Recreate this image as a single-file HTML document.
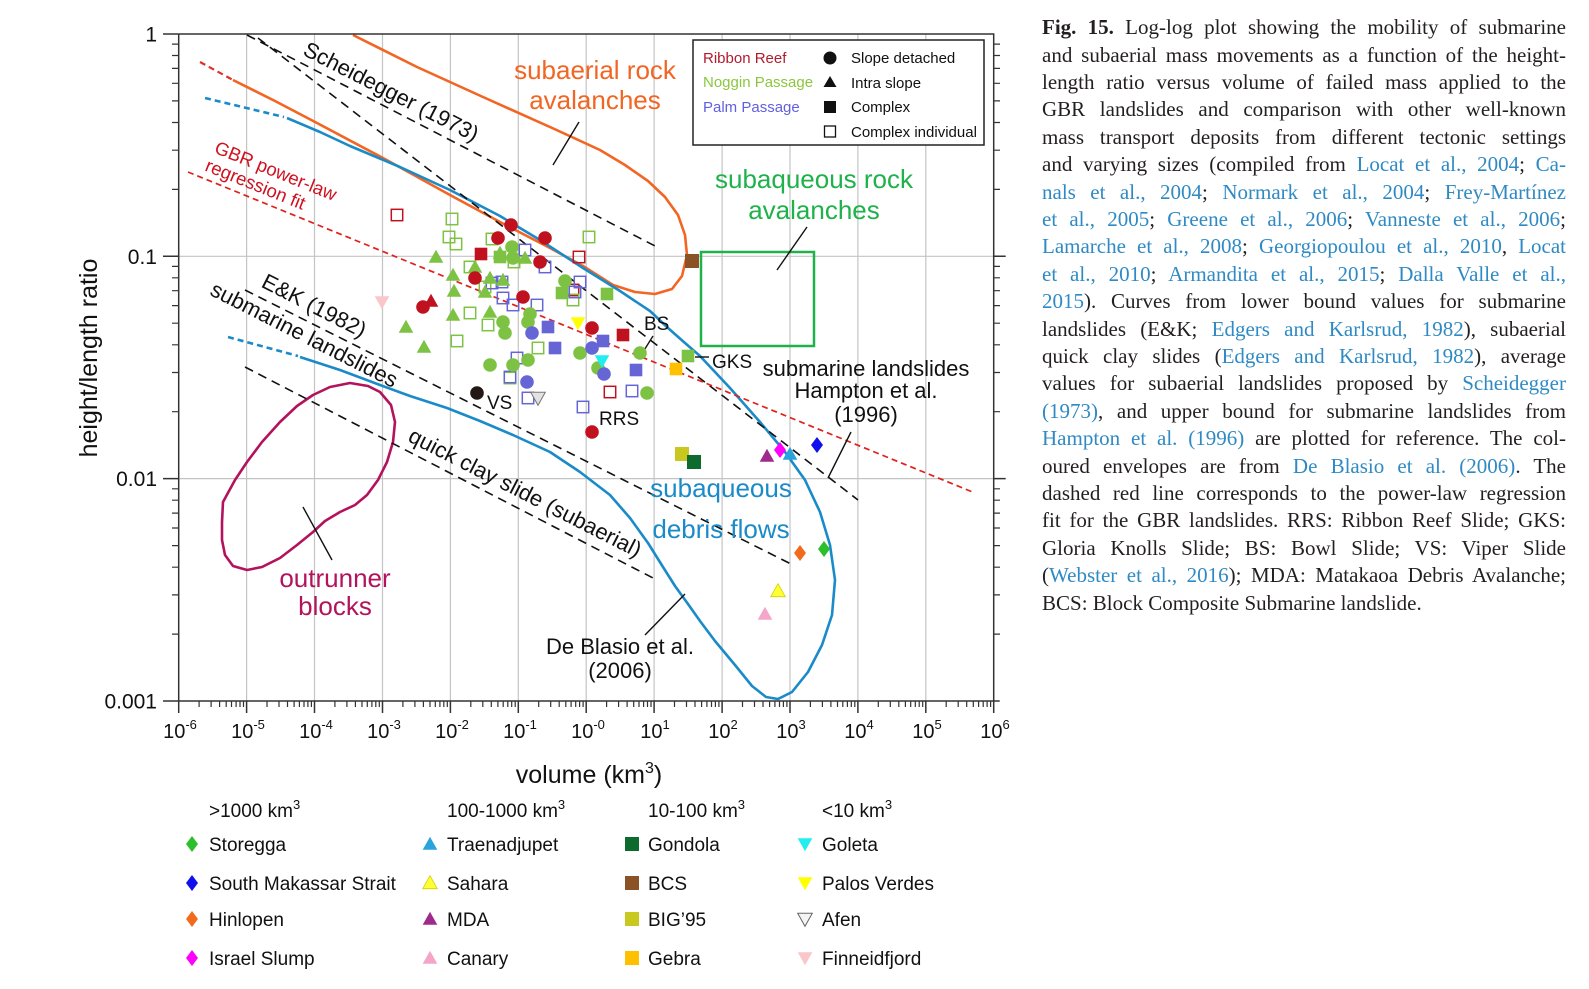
<!DOCTYPE html>
<html><head><meta charset="utf-8">
<style>
html,body{margin:0;padding:0;background:#fff;}
body{width:1589px;height:989px;overflow:hidden;position:relative;}
svg{position:absolute;left:0;top:0;}
#cap{position:absolute;left:1042px;top:14.3px;width:524px;font-family:"Liberation Serif",serif;font-size:21px;color:#231f20;}
#cap .l{height:27.4px;line-height:27.4px;text-align:justify;text-align-last:justify;overflow:visible;}
#cap .l.last{text-align-last:left;}
#cap a{color:#2f8ac4;text-decoration:none;}
</style></head><body>
<svg width="1589" height="989" viewBox="0 0 1589 989" font-family="Liberation Sans, Arial, sans-serif">
<defs>
<circle id="ci" r="6.8"/>
<path id="tu" d="M0,-7.3 L7.3,5.7 L-7.3,5.7Z"/>
<path id="td" d="M-7.3,-5.7 L7.3,-5.7 L0,7.3Z"/>
<rect id="sq" x="-6.3" y="-6.3" width="12.6" height="12.6"/>
<rect id="os" x="-5.7" y="-5.7" width="11.4" height="11.4"/>
<path id="di" d="M0,-8 L6,0 L0,8 L-6,0Z"/>
</defs>
<!-- grid -->
<g stroke="#c4c4c4" stroke-width="1.2">
<path d="M246.6 34V701M314.5 34V701M382.5 34V701M450.4 34V701M518.3 34V701M586.2 34V701M654.1 34V701M722.1 34V701M790 34V701M857.9 34V701M925.8 34V701M178.7 256.3H993.7M178.7 478.6H993.7"/>
</g>
<!-- green rect -->
<rect x="701" y="252" width="113" height="94" fill="none" stroke="#1fb14a" stroke-width="2.5"/>
<!-- magenta envelope -->
<polygon fill="none" stroke="#b3135c" stroke-width="2.6" stroke-linejoin="round" points="223,502 235,480 247,462 262,442 280,422 297,406 313,395 330,387 350,383 368,386 380,392 391,405 395,422 393,442 387,462 378,480 367,495 355,505 340,512 325,521 313,532 297,545 280,558 262,567 247,570 233,566 225,555 222,540 222,522"/>
<!-- orange envelope -->
<polyline fill="none" stroke="#f26522" stroke-width="2.6" stroke-linejoin="round" points="233,80 275,101 317,123 383,158 450,195 500,222 550,248 583,266 613,285 635,292 655,294 672,289 682,276 687,255 685,235 678,215 665,197 648,181 625,165 600,150 550,127 483,97 417,67 353,35"/>
<line x1="200" y1="62" x2="233" y2="80" stroke="#e0302a" stroke-width="2.2" stroke-dasharray="6 4"/>
<!-- blue envelope -->
<polyline fill="none" stroke="#1a8bc8" stroke-width="2.6" stroke-linejoin="round" points="287,118 320,132 350,146 400,167 450,190 500,216 540,240 583,268 620,291 650,311 668,328 685,343 700,356 730,388 760,422 785,452 805,480 820,512 830,545 835,580 832,615 822,645 808,672 792,692 778,699 766,697 752,686 735,665 715,641 700,621 688,604 675,586 663,567 648,543 630,518 610,495 580,472 550,452 513,435 480,421 447,408 410,396 380,385 340,370 300,357"/>
<line x1="205" y1="98" x2="284" y2="117" stroke="#1a8bc8" stroke-width="2.6" stroke-dasharray="6 4"/>
<line x1="228" y1="337" x2="298" y2="356" stroke="#1a8bc8" stroke-width="2.6" stroke-dasharray="6 4"/>
<!-- dashed black reference lines -->
<g stroke="#111" stroke-width="1.6" stroke-dasharray="9 6" fill="none">
<line x1="247" y1="35" x2="655" y2="246"/>
<line x1="258" y1="38" x2="858" y2="500"/>
<line x1="245" y1="290" x2="793" y2="565"/>
<line x1="245" y1="367" x2="653" y2="578"/>
</g>
<!-- GBR regression -->
<line x1="188" y1="172" x2="975" y2="493" stroke="#e0201b" stroke-width="1.7" stroke-dasharray="6 4"/>
<!-- pointer lines -->
<g stroke="#111" stroke-width="1.4">
<line x1="579" y1="122" x2="553" y2="165"/>
<line x1="807" y1="227" x2="777" y2="270"/>
<line x1="851" y1="432" x2="828" y2="478"/>
<line x1="685" y1="594" x2="645" y2="635"/>
<line x1="303" y1="507" x2="332" y2="560"/>
<line x1="653" y1="336" x2="643" y2="352"/>
<line x1="695" y1="357" x2="709" y2="357"/>
</g>
<!-- data: open squares -->
<g fill="none" stroke-width="1.5">
<g stroke="#c0121e">
<use href="#os" x="397" y="215"/><use href="#os" x="579" y="257"/><use href="#os" x="573" y="290"/><use href="#os" x="610" y="392"/>
</g>
<g stroke="#7dc242">
<use href="#os" x="452" y="219"/><use href="#os" x="449" y="237"/><use href="#os" x="456" y="244"/><use href="#os" x="492" y="239"/><use href="#os" x="589" y="237"/><use href="#os" x="470" y="267"/><use href="#os" x="470" y="313"/><use href="#os" x="488" y="325"/><use href="#os" x="457" y="341"/><use href="#os" x="538" y="348"/><use href="#os" x="573" y="300"/><use href="#os" x="514" y="262"/><use href="#os" x="510" y="378"/><use href="#os" x="485" y="287"/>
</g>
<g stroke="#6565d6">
<use href="#os" x="525" y="250"/><use href="#os" x="545" y="267"/><use href="#os" x="492" y="283"/><use href="#os" x="502" y="282"/><use href="#os" x="503" y="298"/><use href="#os" x="513" y="305"/><use href="#os" x="537" y="305"/><use href="#os" x="580" y="282"/><use href="#os" x="517" y="358"/><use href="#os" x="510" y="377"/><use href="#os" x="528" y="398"/><use href="#os" x="583" y="407"/><use href="#os" x="632" y="391"/><use href="#os" x="575" y="292"/>
</g>
</g>
<!-- Noggin filled -->
<g fill="#7dc242">
<use href="#tu" x="436" y="257"/><use href="#tu" x="453" y="275"/><use href="#tu" x="454" y="291"/><use href="#tu" x="453" y="315"/><use href="#tu" x="406" y="327"/><use href="#tu" x="424" y="347"/><use href="#tu" x="490" y="278"/><use href="#tu" x="503" y="280"/><use href="#tu" x="525" y="258"/><use href="#tu" x="500" y="253"/><use href="#tu" x="475" y="267"/><use href="#tu" x="490" y="312"/><use href="#tu" x="485" y="292"/>
<use href="#sq" x="500" y="257"/><use href="#sq" x="562" y="293"/><use href="#sq" x="607" y="294"/><use href="#sq" x="688" y="356"/>
<use href="#ci" x="512" y="247"/><use href="#ci" x="513" y="258"/><use href="#ci" x="565" y="281"/><use href="#ci" x="503" y="322"/><use href="#ci" x="505" y="333"/><use href="#ci" x="530" y="314"/><use href="#ci" x="528" y="322"/><use href="#ci" x="490" y="365"/><use href="#ci" x="513" y="365"/><use href="#ci" x="528" y="360"/><use href="#ci" x="580" y="353"/><use href="#ci" x="598" y="368"/><use href="#ci" x="640" y="353"/><use href="#ci" x="647" y="393"/>
</g>
<!-- Palm filled -->
<g fill="#6565d6">
<use href="#sq" x="548" y="327"/><use href="#sq" x="555" y="348"/><use href="#sq" x="603" y="341"/><use href="#sq" x="636" y="370"/>
<use href="#ci" x="532" y="333"/><use href="#ci" x="527" y="382"/><use href="#ci" x="592" y="348"/><use href="#ci" x="604" y="374"/>
</g>
<!-- Ribbon Reef filled -->
<g fill="#c0121e">
<use href="#ci" x="511" y="225"/><use href="#ci" x="545" y="238"/><use href="#ci" x="498" y="238"/><use href="#ci" x="540" y="262"/><use href="#ci" x="475" y="278"/><use href="#ci" x="423" y="307"/><use href="#ci" x="523" y="297"/><use href="#ci" x="592" y="328"/><use href="#ci" x="592" y="432"/>
<use href="#tu" x="431" y="301"/>
<use href="#sq" x="481" y="254"/><use href="#sq" x="623" y="335"/>
</g>
<!-- other datasets -->
<use href="#ci" x="477" y="393" fill="#231815"/>
<use href="#td" x="382" y="302" fill="#f9c6c9"/>
<use href="#td" x="578" y="323" fill="#ffff00"/>
<use href="#td" x="602" y="361" fill="#22eef0"/>
<use href="#td" x="538" y="398" fill="#e2e2e2" stroke="#777" stroke-width="1"/>
<use href="#sq" x="676" y="369" fill="#ffc000"/>
<rect x="675" y="447" width="14" height="14" fill="#c8c81e"/>
<rect x="687" y="455" width="14" height="14" fill="#0e6b2e"/>
<rect x="685" y="254" width="14" height="14" fill="#8b5226"/>
<use href="#tu" x="767" y="456" fill="#9e2a8c"/>
<use href="#tu" x="790" y="454" fill="#2aa3dc"/>
<use href="#di" x="780" y="450" fill="#ff00ff"/>
<use href="#di" x="817" y="445" fill="#1010ee"/>
<use href="#di" x="800" y="553" fill="#f26a1b"/>
<use href="#di" x="824" y="549" fill="#2cbf2c"/>
<use href="#tu" x="778" y="591" fill="#ffff33" stroke="#d0d000" stroke-width="0.8"/>
<use href="#tu" x="765" y="614" fill="#f4a6c9"/>
<!-- plot labels -->
<g font-size="22" fill="#111">
<text transform="translate(391,92) rotate(27)" text-anchor="middle" y="7">Scheidegger (1973)</text>
<text transform="translate(314,306) rotate(27)" text-anchor="middle" y="7">E&amp;K (1982)</text>
<text transform="translate(304,335) rotate(27)" text-anchor="middle" y="7">submarine landslides</text>
<text transform="translate(525,493) rotate(27)" text-anchor="middle" y="7">quick clay slide (subaerial)</text>
<text x="866" y="376" text-anchor="middle">submarine landslides</text>
<text x="866" y="398" text-anchor="middle">Hampton et al.</text>
<text x="866" y="422" text-anchor="middle">(1996)</text>
<text x="620" y="654" text-anchor="middle">De Blasio et al.</text>
<text x="620" y="678" text-anchor="middle">(2006)</text>
</g>
<g font-size="19" fill="#111">
<text x="644" y="330">BS</text>
<text x="712" y="368">GKS</text>
<text x="487" y="409">VS</text>
<text x="599" y="425">RRS</text>
</g>
<g transform="translate(216,146) rotate(22)" font-size="18.5" fill="#d0101e">
<text x="0" y="7">GBR power-law</text>
<text x="-2" y="27">regression fit</text>
</g>
<g font-size="26" text-anchor="middle">
<text x="595" y="79" fill="#f26522">subaerial rock</text>
<text x="595" y="109" fill="#f26522">avalanches</text>
<text x="814" y="188" fill="#1fb14a">subaqueous rock</text>
<text x="814" y="219" fill="#1fb14a">avalanches</text>
<text x="721" y="497" fill="#1a8bc8">subaqueous</text>
<text x="721" y="538" fill="#1a8bc8">debris flows</text>
<text x="335" y="587" fill="#b3135c">outrunner</text>
<text x="335" y="615" fill="#b3135c">blocks</text>
</g>
<!-- in-plot legend -->
<rect x="693" y="40" width="291" height="105" fill="#fff" stroke="#222" stroke-width="1.5"/>
<g font-size="15">
<text x="703" y="63" fill="#b01c2e">Ribbon Reef</text>
<text x="703" y="87" fill="#8cc63f">Noggin Passage</text>
<text x="703" y="112" fill="#6060e0">Palm Passage</text>
<text x="851" y="63" fill="#111">Slope detached</text>
<text x="851" y="88" fill="#111">Intra slope</text>
<text x="851" y="112" fill="#111">Complex</text>
<text x="851" y="137" fill="#111">Complex individual</text>
</g>
<circle cx="830" cy="58" r="6.5" fill="#111"/>
<path d="M830,76 L836.5,87 L823.5,87Z" fill="#111"/>
<rect x="824" y="101" width="12" height="12" fill="#111"/>
<rect x="824.5" y="126" width="11" height="11" fill="none" stroke="#111" stroke-width="1.3"/>
<!-- axes -->
<g stroke="#333" stroke-width="1.5" fill="none">
<path d="M178.7 34V701M163 701H993.7V34H178.7"/>
<path d="M163 34h15.7M163 256.3h15.7M163 478.6h15.7M993.7 256.3h12M993.7 478.6h12M993.7 701h6"/>
<path d="M178.7 701v12M246.6 701v12M314.5 701v12M382.5 701v12M450.4 701v12M518.3 701v12M586.2 701v12M654.1 701v12M722.1 701v12M790 701v12M857.9 701v12M925.8 701v12M993.7 701v12"/>
</g>
<g stroke="#333" stroke-width="1.2" fill="none">
<path d="M199.1 701v6M211.1 701v6M219.6 701v6M226.2 701v6M231.5 701v6M236.1 701v6M240 701v6M243.5 701v6M267 701v6M279 701v6M287.5 701v6M294.1 701v6M299.4 701v6M304 701v6M307.9 701v6M311.4 701v6M334.9 701v6M346.9 701v6M355.4 701v6M362 701v6M367.3 701v6M371.9 701v6M375.8 701v6M379.3 701v6M402.9 701v6M414.9 701v6M423.4 701v6M430 701v6M435.3 701v6M439.9 701v6M443.8 701v6M447.3 701v6M470.8 701v6M482.8 701v6M491.3 701v6M497.9 701v6M503.2 701v6M507.8 701v6M511.7 701v6M515.2 701v6M538.7 701v6M550.7 701v6M559.2 701v6M565.8 701v6M571.1 701v6M575.7 701v6M579.6 701v6M583.1 701v6M606.6 701v6M618.6 701v6M627.1 701v6M633.7 701v6M639 701v6M643.6 701v6M647.5 701v6M651 701v6M674.5 701v6M686.5 701v6M695 701v6M701.6 701v6M706.9 701v6M711.5 701v6M715.4 701v6M718.9 701v6M742.5 701v6M754.5 701v6M763 701v6M769.6 701v6M774.9 701v6M779.5 701v6M783.4 701v6M786.9 701v6M810.4 701v6M822.4 701v6M830.9 701v6M837.5 701v6M842.8 701v6M847.4 701v6M851.3 701v6M854.8 701v6M878.3 701v6M890.3 701v6M898.8 701v6M905.4 701v6M910.7 701v6M915.3 701v6M919.2 701v6M922.7 701v6M946.2 701v6M958.2 701v6M966.7 701v6M973.3 701v6M978.6 701v6M983.2 701v6M987.1 701v6M990.6 701v6"/>
<path d="M172 189.4h6.7M172 150.2h6.7M172 122.5h6.7M172 100.9h6.7M172 83.3h6.7M172 68.4h6.7M172 55.5h6.7M172 44.1h6.7M172 411.7h6.7M172 372.5h6.7M172 344.8h6.7M172 323.2h6.7M172 305.6h6.7M172 290.7h6.7M172 277.8h6.7M172 266.4h6.7M172 634.1h6.7M172 594.9h6.7M172 567.2h6.7M172 545.6h6.7M172 528h6.7M172 513.1h6.7M172 500.2h6.7M172 488.8h6.7"/>
<path d="M993.7 189.4h6.3M993.7 150.2h6.3M993.7 122.5h6.3M993.7 100.9h6.3M993.7 83.3h6.3M993.7 68.4h6.3M993.7 55.5h6.3M993.7 44.1h6.3M993.7 411.7h6.3M993.7 372.5h6.3M993.7 344.8h6.3M993.7 323.2h6.3M993.7 305.6h6.3M993.7 290.7h6.3M993.7 277.8h6.3M993.7 266.4h6.3M993.7 634.1h6.3M993.7 594.9h6.3M993.7 567.2h6.3M993.7 545.6h6.3M993.7 528h6.3M993.7 513.1h6.3M993.7 500.2h6.3M993.7 488.8h6.3"/>
</g>
<!-- tick labels -->
<g font-size="21" fill="#111" text-anchor="end">
<text x="157" y="41.5">1</text>
<text x="157" y="264">0.1</text>
<text x="157" y="486">0.01</text>
<text x="157" y="708.5">0.001</text>
</g>
<g font-size="20" fill="#111" text-anchor="middle">
<text x="180" y="738">10<tspan dy="-9" font-size="13">-6</tspan></text>
<text x="248" y="738">10<tspan dy="-9" font-size="13">-5</tspan></text>
<text x="316" y="738">10<tspan dy="-9" font-size="13">-4</tspan></text>
<text x="384" y="738">10<tspan dy="-9" font-size="13">-3</tspan></text>
<text x="452" y="738">10<tspan dy="-9" font-size="13">-2</tspan></text>
<text x="520" y="738">10<tspan dy="-9" font-size="13">-1</tspan></text>
<text x="588" y="738">10<tspan dy="-9" font-size="13">-0</tspan></text>
<text x="655" y="738">10<tspan dy="-9" font-size="13">1</tspan></text>
<text x="723" y="738">10<tspan dy="-9" font-size="13">2</tspan></text>
<text x="791" y="738">10<tspan dy="-9" font-size="13">3</tspan></text>
<text x="859" y="738">10<tspan dy="-9" font-size="13">4</tspan></text>
<text x="927" y="738">10<tspan dy="-9" font-size="13">5</tspan></text>
<text x="995" y="738">10<tspan dy="-9" font-size="13">6</tspan></text>
</g>
<text x="589" y="783" font-size="25" fill="#111" text-anchor="middle">volume (km<tspan dy="-10" font-size="16">3</tspan><tspan dy="10">)</tspan></text>
<text transform="translate(97,358) rotate(-90)" font-size="25" fill="#111" text-anchor="middle">height/length ratio</text>
<!-- bottom legend -->
<g font-size="19" fill="#111">
<text x="209" y="817">&gt;1000 km<tspan dy="-8" font-size="13">3</tspan></text>
<text x="447" y="817">100-1000 km<tspan dy="-8" font-size="13">3</tspan></text>
<text x="648" y="817">10-100 km<tspan dy="-8" font-size="13">3</tspan></text>
<text x="822" y="817">&lt;10 km<tspan dy="-8" font-size="13">3</tspan></text>
<text x="209" y="851">Storegga</text>
<text x="209" y="890">South Makassar Strait</text>
<text x="209" y="926">Hinlopen</text>
<text x="209" y="965">Israel Slump</text>
<text x="447" y="851">Traenadjupet</text>
<text x="447" y="890">Sahara</text>
<text x="447" y="926">MDA</text>
<text x="447" y="965">Canary</text>
<text x="648" y="851">Gondola</text>
<text x="648" y="890">BCS</text>
<text x="648" y="926">BIG’95</text>
<text x="648" y="965">Gebra</text>
<text x="822" y="851">Goleta</text>
<text x="822" y="890">Palos Verdes</text>
<text x="822" y="926">Afen</text>
<text x="822" y="965">Finneidfjord</text>
</g>
<use href="#di" x="192" y="844" fill="#2cbf2c"/>
<use href="#di" x="192" y="883" fill="#1010ee"/>
<use href="#di" x="192" y="919" fill="#f26a1b"/>
<use href="#di" x="192" y="958" fill="#ff00ff"/>
<use href="#tu" x="430" y="844" fill="#2aa3dc"/>
<use href="#tu" x="430" y="883" fill="#ffff33" stroke="#d0d000" stroke-width="0.8"/>
<use href="#tu" x="430" y="919" fill="#9e2a8c"/>
<use href="#tu" x="430" y="958" fill="#f4a6c9"/>
<rect x="625" y="837" width="14" height="14" fill="#0e6b2e"/>
<rect x="625" y="876" width="14" height="14" fill="#8b5226"/>
<rect x="625" y="912" width="14" height="14" fill="#c8c81e"/>
<rect x="625" y="951" width="14" height="14" fill="#ffc000"/>
<use href="#td" x="805" y="844" fill="#22eef0"/>
<use href="#td" x="805" y="883" fill="#ffff00"/>
<use href="#td" x="805" y="919" fill="#f4f4f4" stroke="#666" stroke-width="1"/>
<use href="#td" x="805" y="958" fill="#f9c6c9"/>
</svg>
<div id="cap">
<div class="l"><b>Fig. 15.</b> Log-log plot showing the mobility of submarine</div>
<div class="l">and subaerial mass movements as a function of the height-</div>
<div class="l">length ratio versus volume of failed mass applied to the</div>
<div class="l">GBR landslides and comparison with other well-known</div>
<div class="l">mass transport deposits from different tectonic settings</div>
<div class="l">and varying sizes (compiled from <a>Locat et al., 2004</a>; <a>Ca-</a></div>
<div class="l"><a>nals et al., 2004</a>; <a>Normark et al., 2004</a>; <a>Frey-Martínez</a></div>
<div class="l"><a>et al., 2005</a>; <a>Greene et al., 2006</a>; <a>Vanneste et al., 2006</a>;</div>
<div class="l"><a>Lamarche et al., 2008</a>; <a>Georgiopoulou et al., 2010</a>, <a>Locat</a></div>
<div class="l"><a>et al., 2010</a>; <a>Armandita et al., 2015</a>; <a>Dalla Valle et al.,</a></div>
<div class="l"><a>2015</a>). Curves from lower bound values for submarine</div>
<div class="l">landslides (E&amp;K; <a>Edgers and Karlsrud, 1982</a>), subaerial</div>
<div class="l">quick clay slides (<a>Edgers and Karlsrud, 1982</a>), average</div>
<div class="l">values for subaerial landslides proposed by <a>Scheidegger</a></div>
<div class="l"><a>(1973)</a>, and upper bound for submarine landslides from</div>
<div class="l"><a>Hampton et al. (1996)</a> are plotted for reference. The col-</div>
<div class="l">oured envelopes are from <a>De Blasio et al. (2006)</a>. The</div>
<div class="l">dashed red line corresponds to the power-law regression</div>
<div class="l">fit for the GBR landslides. RRS: Ribbon Reef Slide; GKS:</div>
<div class="l">Gloria Knolls Slide; BS: Bowl Slide; VS: Viper Slide</div>
<div class="l">(<a>Webster et al., 2016</a>); MDA: Matakaoa Debris Avalanche;</div>
<div class="l last">BCS: Block Composite Submarine landslide.</div>
</div>
</body></html>
